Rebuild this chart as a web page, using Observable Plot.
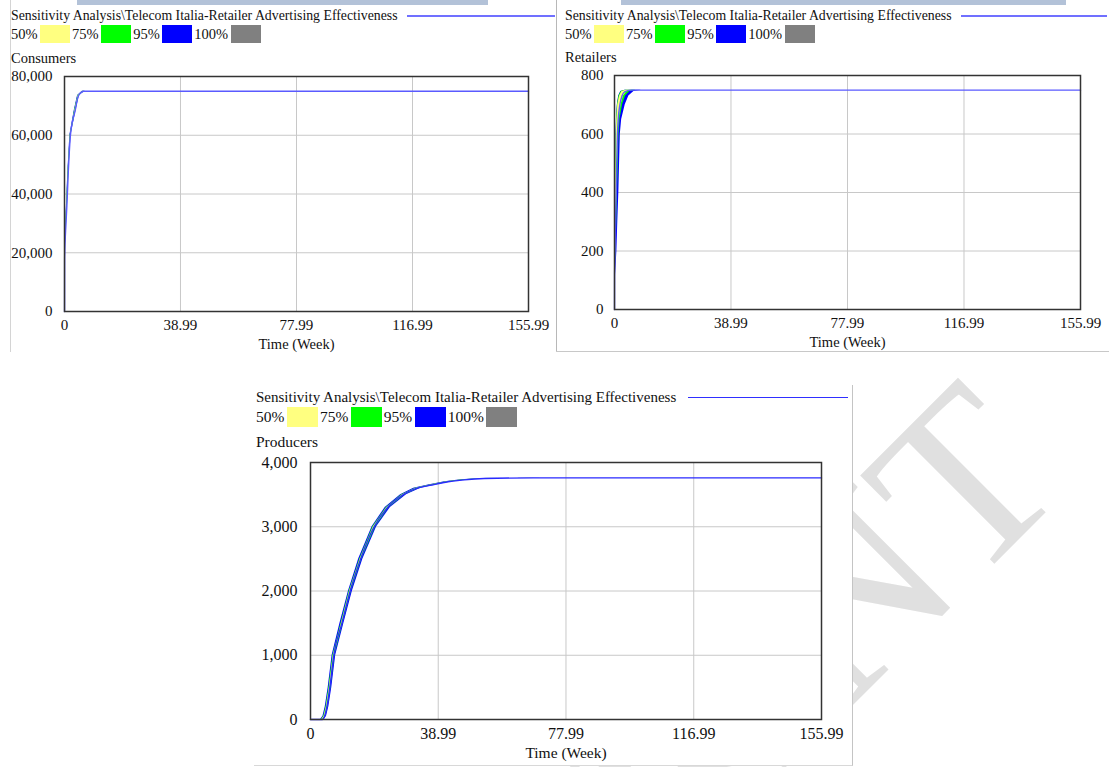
<!DOCTYPE html>
<html><head><meta charset="utf-8">
<script src="https://cdn.jsdelivr.net/npm/d3@7"></script>
<script src="https://cdn.jsdelivr.net/npm/@observablehq/plot@0.6"></script>
<style>
body{margin:0;background:#fff;}
#page{position:relative;width:1109px;height:767px;overflow:hidden;font-family:"Liberation Serif","Times New Roman",serif;color:#111;background:#fff;}
.row{position:absolute;display:flex;align-items:center;white-space:nowrap;}
</style></head><body><div id="page"></div>
<script>
// ---------- data ----------
const titleText = "Sensitivity Analysis\\Telecom Italia-Retailer Advertising Effectiveness";
const legendLabels = ["50%", "75%", "95%", "100%"];
const legendColors = ["#ffff80", "#00ff00", "#0000ff", "#808080"];
const xTicks = [0, 38.99, 77.99, 116.99, 155.99];
const xLabel = "Time (Week)";
const watermarkText = "PREPRINT";

// Consumers: value levels and the week at which each run reaches them
const consumerTicks = [0, 20000, 40000, 60000, 80000];
const consumerLevels = [0, 0, 18000, 30000, 36000, 48000, 60000, 68500, 73500, 75000, 75000];
const consumerBase   = [0, 0.02, 0.05, 0.5, 0.8, 1.3, 2.0, 3.6, 4.7, 6.5, 155.99];
const consumer95Lo   = [0, 0, 0.03, 0.35, 0.65, 1.15, 1.8, 3.3, 4.4, 6.0, 155.99];
const consumer95Hi   = [0, 0.05, 0.1, 0.7, 1.0, 1.5, 2.2, 3.9, 5.0, 7.0, 155.99];
const consumer75Lo   = [0, 0, 0.04, 0.4, 0.7, 1.2, 1.9, 3.4, 4.5, 6.2, 155.99];
const consumer75Hi   = [0, 0.04, 0.08, 0.6, 0.9, 1.4, 2.1, 3.8, 4.9, 6.8, 155.99];
const consumer50Lo   = [0, 0, 0.05, 0.45, 0.75, 1.25, 1.95, 3.5, 4.6, 6.3, 155.99];
const consumer50Hi   = [0, 0.03, 0.07, 0.55, 0.85, 1.35, 2.05, 3.7, 4.8, 6.6, 155.99];

// Retailers
const retailerTicks = [0, 200, 400, 600, 800];
const retailerLevels = [0, 0, 120, 200, 300, 400, 500, 600, 650, 700, 730, 745, 750, 750];
const retailerBase   = [0, 0.01, 0.03, 0.2, 0.35, 0.55, 0.75, 1.0, 1.25, 1.8, 2.5, 3.5, 5.5, 155.99];
const retailer95Lo   = [0, 0, 0.01, 0.06, 0.15, 0.25, 0.37, 0.5, 0.65, 0.95, 1.4, 2.1, 3.5, 155.99];
const retailer95Hi   = [0, 0.1, 0.35, 0.8, 1.1, 1.45, 1.7, 1.95, 2.4, 3.6, 4.8, 6.5, 9.0, 155.99];
const retailer75Lo   = [0, 0, 0.02, 0.08, 0.18, 0.29, 0.41, 0.55, 0.7, 1.0, 1.5, 2.2, 3.7, 155.99];
const retailer75Hi   = [0, 0.06, 0.2, 0.5, 0.75, 1.0, 1.25, 1.5, 1.85, 2.7, 3.7, 5.1, 7.2, 155.99];
const retailer50Lo   = [0, 0, 0.03, 0.1, 0.22, 0.34, 0.47, 0.62, 0.78, 1.1, 1.7, 2.5, 4.0, 155.99];
const retailer50Hi   = [0, 0.04, 0.12, 0.35, 0.55, 0.75, 0.98, 1.22, 1.5, 2.2, 3.0, 4.2, 6.0, 155.99];

// Producers
const producerTicks = [0, 1000, 2000, 3000, 4000];
const producerLevels = [0, 0, 50, 200, 500, 1000, 1500, 2000, 2500, 3000, 3300, 3500, 3600, 3650, 3700, 3730, 3750, 3760, 3760];
const producerBase   = [0, 3.6, 4.3, 5.0, 5.9, 7.1, 9.6, 12.1, 15.3, 19.4, 23.5, 28.3, 32.5, 37, 42, 47, 53, 68, 155.99];
const producer95Lo   = [0, 3.1, 3.8, 4.5, 5.4, 6.6, 9.0, 11.6, 14.7, 18.8, 22.8, 27.5, 31.5, 36, 41, 46, 52, 66, 155.99];
const producer95Hi   = [0, 4.2, 4.9, 5.6, 6.5, 7.7, 10.2, 12.8, 16.0, 20.2, 24.4, 29.3, 33.7, 38.3, 43.3, 48.5, 54.5, 70, 155.99];
const producer75Lo   = [0, 3.3, 4.0, 4.7, 5.6, 6.8, 9.3, 11.8, 15.0, 19.0, 23.1, 27.8, 32, 36.5, 41.5, 46.5, 52.5, 67, 155.99];
const producer75Hi   = [0, 3.95, 4.65, 5.35, 6.25, 7.45, 9.95, 12.5, 15.7, 19.9, 24.0, 28.9, 33.2, 37.7, 42.7, 47.8, 54, 69, 155.99];
const producer50Lo   = [0, 3.45, 4.15, 4.85, 5.75, 6.95, 9.45, 11.95, 15.15, 19.2, 23.3, 28.05, 32.25, 36.75, 41.75, 46.75, 52.75, 67.5, 155.99];
const producer50Hi   = [0, 3.75, 4.45, 5.15, 6.05, 7.25, 9.75, 12.3, 15.5, 19.65, 23.75, 28.6, 32.8, 37.3, 42.3, 47.3, 53.5, 68.5, 155.99];

// ---------- drawing ----------
const page = document.getElementById("page");
const FONT = "'Liberation Serif','Times New Roman',serif";

function el(tag, css, parent) {
  const e = document.createElement(tag);
  e.style.cssText = css;
  (parent || page).appendChild(e);
  return e;
}

// watermark (behind everything)
const NS = "http://www.w3.org/2000/svg";
const wm = document.createElementNS(NS, "svg");
wm.setAttribute("width", 1109); wm.setAttribute("height", 767);
wm.style.cssText = "position:absolute;left:0;top:0;z-index:0";
const wt = document.createElementNS(NS, "text");
wt.setAttribute("x", 1072); wt.setAttribute("y", 486);
wt.setAttribute("transform", "rotate(-45 1072 486)");
wt.setAttribute("text-anchor", "end");
wt.setAttribute("font-family", FONT);
wt.setAttribute("font-size", 240);
wt.setAttribute("fill", "#e0e0e0");
wt.textContent = watermarkText;
wm.appendChild(wt);
page.appendChild(wm);

// panel backgrounds / borders (screen-capture frames)
el("div", "position:absolute;left:254px;top:385px;width:598px;height:380px;background:#fff;border-right:1px solid #c4c4c4;border-bottom:1px solid #d8d8d8;z-index:1");
el("div", "position:absolute;left:10px;top:0;width:1px;height:352px;background:#d4d4d4;z-index:1");
el("div", "position:absolute;left:556px;top:0;width:1px;height:352px;background:#b8b8b8;z-index:1");
el("div", "position:absolute;left:556px;top:351px;width:553px;height:1px;background:#c8c8c8;z-index:1");
el("div", "position:absolute;left:77px;top:0;width:411px;height:5px;background:#b3c2d8;z-index:1");
el("div", "position:absolute;left:621px;top:0;width:445px;height:5px;background:#b3c2d8;z-index:1");

function header(p) {
  const t = el("div", `left:${p.left}px;top:${p.titleY - 8}px;width:${p.width}px;height:16px;font-size:${p.fsTitle}px;line-height:16px;z-index:2`);
  t.className = "row";
  const s = el("span", "", t); s.textContent = titleText;
  el("div", `flex:1;margin-left:${p.gap}px;height:0;border-top:${p.lw}px solid ${p.lineColor}`, t);

  const lg = el("div", `left:${p.left}px;top:${p.legendTop}px;height:${p.boxH}px;font-size:${p.fsLegend}px;z-index:2`);
  lg.className = "row";
  legendLabels.forEach((lab, i) => {
    const sp = el("span", "", lg); sp.textContent = lab;
    el("span", `display:inline-block;width:${p.boxW}px;height:${p.boxH}px;background:${legendColors[i]};margin-left:2.5px;margin-right:2px`, lg);
  });

  const n = el("div", `position:absolute;left:${p.left}px;top:${p.nameY - 9}px;font-size:${p.fsLegend}px;line-height:18px;z-index:2`);
  n.textContent = p.name;
}

function chart(p) {
  const rows = p.levels.map((v, i) => ({
    v, t: p.base[i],
    lo95: p.lo95[i], hi95: p.hi95[i],
    lo75: p.lo75[i], hi75: p.hi75[i],
    lo50: p.lo50[i], hi50: p.hi50[i]
  }));
  const svg = Plot.plot({
    width: p.width, height: p.height,
    marginLeft: p.ml, marginRight: p.mr, marginTop: p.mt, marginBottom: p.mb,
    x: {domain: [0, 155.99]},
    y: {domain: [0, p.yTicks[p.yTicks.length - 1]]},
    style: {fontFamily: FONT, fontSize: p.fsTick + "px", color: "#111", background: "transparent", overflow: "visible"},
    marks: [
      Plot.gridX(xTicks, {stroke: "#c8c8c8", strokeOpacity: 1}),
      Plot.gridY(p.yTicks, {stroke: "#c8c8c8", strokeOpacity: 1}),
      Plot.areaX(rows, {y: "v", x1: "lo95", x2: "hi95", fill: legendColors[2]}),
      Plot.areaX(rows, {y: "v", x1: "lo75", x2: "hi75", fill: legendColors[1]}),
      Plot.areaX(rows, {y: "v", x1: "lo50", x2: "hi50", fill: legendColors[0]}),
      Plot.line(rows, {x: "t", y: "v", stroke: p.lineColor, strokeWidth: 1.4, curve: "monotone-x"}),
      Plot.frame({stroke: "#333", strokeWidth: 1.5}),
      Plot.axisY(p.yTicks, {tickSize: 0, tickPadding: p.padY, tickFormat: d3.format(","), label: null, fontSize: p.fsTick}),
      Plot.axisX(xTicks, {tickSize: 0, tickPadding: p.padX, tickFormat: d => d === 0 ? "0" : d3.format(".2f")(d), label: null, fontSize: p.fsTick}),
      Plot.text([xLabel], {frameAnchor: "bottom", lineAnchor: "middle", dy: p.labelDy, fontSize: p.fsLabel, fill: "#111"})
    ]
  });
  const wrap = el("div", `position:absolute;left:${p.left}px;top:${p.top}px;z-index:2`);
  wrap.appendChild(svg);
}

// Panel 1: Consumers
header({left: 11, titleY: 16, width: 544, fsTitle: 13.8, fsLegend: 14.5, gap: 9, lw: 2, lineColor: "#7070ff", legendTop: 25, boxW: 30, boxH: 18, nameY: 58, name: "Consumers"});
chart({left: 0, top: 66, width: 556, height: 287, ml: 64, mr: 28, mt: 10, mb: 42, fsTick: 15, fsLabel: 14.5, padY: 12, padX: 8, labelDy: 33,
  yTicks: consumerTicks, levels: consumerLevels, base: consumerBase,
  lo95: consumer95Lo, hi95: consumer95Hi, lo75: consumer75Lo, hi75: consumer75Hi, lo50: consumer50Lo, hi50: consumer50Hi,
  lineColor: "#5a5aff"});

// Panel 2: Retailers
header({left: 565, titleY: 16, width: 542, fsTitle: 13.8, fsLegend: 14.5, gap: 9, lw: 2, lineColor: "#7070ff", legendTop: 25, boxW: 30, boxH: 18, nameY: 57, name: "Retailers"});
chart({left: 556, top: 65, width: 553, height: 286, ml: 58, mr: 29, mt: 10, mb: 42, fsTick: 15, fsLabel: 14.5, padY: 11, padX: 8, labelDy: 33,
  yTicks: retailerTicks, levels: retailerLevels, base: retailerBase,
  lo95: retailer95Lo, hi95: retailer95Hi, lo75: retailer75Lo, hi75: retailer75Hi, lo50: retailer50Lo, hi50: retailer50Hi,
  lineColor: "#5a5aff"});

// Panel 3: Producers
header({left: 256, titleY: 397, width: 592, fsTitle: 15, fsLegend: 15.5, gap: 12, lw: 1, lineColor: "#2f2fff", legendTop: 407, boxW: 31, boxH: 20, nameY: 442, name: "Producers"});
chart({left: 254, top: 452, width: 598, height: 312, ml: 56, mr: 31, mt: 10, mb: 45, fsTick: 16, fsLabel: 15.5, padY: 13, padX: 8, labelDy: 34,
  yTicks: producerTicks, levels: producerLevels, base: producerBase,
  lo95: producer95Lo, hi95: producer95Hi, lo75: producer75Lo, hi75: producer75Hi, lo50: producer50Lo, hi50: producer50Hi,
  lineColor: "#2a2aff"});
</script>
</body></html>
